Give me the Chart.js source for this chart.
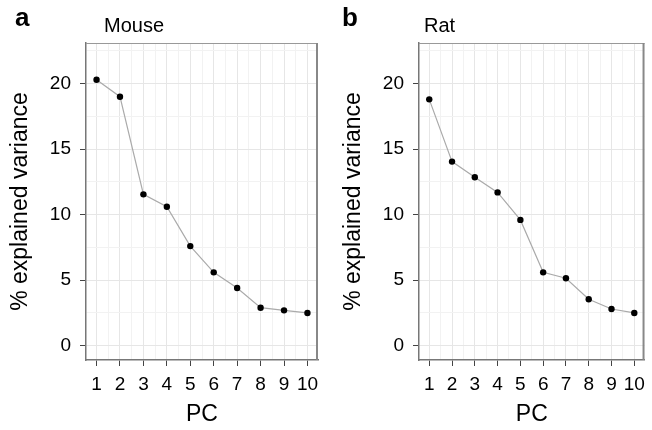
<!DOCTYPE html>
<html>
<head>
<meta charset="utf-8">
<script src="https://cdn.jsdelivr.net/npm/chart.js@4"></script>
<style>
  body { margin: 0; background: #fff; }
  #wrap { position: relative; width: 652px; height: 430px; overflow: hidden; font-family: "Liberation Sans", Arial, sans-serif; color: #000; }
  .cv { position: absolute; top: 0; height: 430px; }
  .lbl { position: absolute; line-height: 1; white-space: nowrap; }
  .tag { font-size: 26px; font-weight: bold; top: 4px; }
  .ttl { font-size: 20px; top: 15px; }
</style>
</head>
<body>
<div id="wrap">
  <div class="cv" style="left:0;width:326px"><canvas id="mouse"></canvas></div>
  <div class="cv" style="left:333px;width:319px"><canvas id="rat"></canvas></div>
  <div class="lbl tag" style="left:15px">a</div>
  <div class="lbl ttl" style="left:104px">Mouse</div>
  <div class="lbl tag" style="left:342px">b</div>
  <div class="lbl ttl" style="left:424px">Rat</div>
</div>
<script>
const pcs = [1, 2, 3, 4, 5, 6, 7, 8, 9, 10];
const mouseVar = [20.3, 19.0, 11.55, 10.6, 7.6, 5.6, 4.4, 2.9, 2.7, 2.5];
const ratVar = [18.8, 14.05, 12.85, 11.7, 9.6, 5.6, 5.15, 3.55, 2.8, 2.5];
const yMajor = [0, 5, 10, 15, 20];
const yMinor = [2.5, 7.5, 12.5, 17.5, 22.5];
const xMinor = [1.5, 2.5, 3.5, 4.5, 5.5, 6.5, 7.5, 8.5, 9.5];

Chart.defaults.font.family = '"Liberation Sans", Arial, sans-serif';
Chart.defaults.color = '#000';

const gridColor = (major) => (ctx) => major.includes(ctx.tick.value) ? '#e6e6e6' : '#f2f2f2';
const tickColor = (major) => (ctx) => major.includes(ctx.tick.value) ? '#444' : 'rgba(0,0,0,0)';

// cadre du panneau (haut et droite)
const cadre = {
    id: 'cadre',
    afterDatasetsDraw(chart) {
        const a = chart.chartArea;
        const ctx = chart.ctx;
        ctx.save();
        ctx.strokeStyle = '#999';
        ctx.lineWidth = 1;
        ctx.beginPath();
        ctx.moveTo(a.left, a.top + 0.5);
        ctx.lineTo(a.right, a.top + 0.5);
        ctx.stroke();
        ctx.lineWidth = 2;
        ctx.strokeStyle = '#888';
        ctx.beginPath();
        ctx.moveTo(a.right - 1, a.top);
        ctx.lineTo(a.right - 1, a.bottom);
        ctx.stroke();
        ctx.restore();
    }
};

function graficar(id, valores, padRight) {
    const ctx = document.getElementById(id).getContext('2d');
    return new Chart(ctx, {
        type: 'scatter',
        data: {
            datasets: [{
                data: pcs.map((pc, i) => ({ x: pc, y: valores[i] })),
                showLine: true,
                borderColor: '#aaaaaa',
                borderWidth: 1.2,
                pointRadius: 3.2,
                pointBackgroundColor: '#000',
                pointBorderWidth: 0,
                pointHoverRadius: 3.2
            }]
        },
        options: {
            responsive: true,
            maintainAspectRatio: false,
            animation: false,
            layout: { padding: { top: 43, right: padRight, left: 0, bottom: 0 } },
            plugins: { legend: { display: false }, tooltip: { enabled: false } },
            scales: {
                x: {
                    type: 'linear',
                    min: 0.55,
                    max: 10.45,
                    afterBuildTicks: s => { s.ticks = pcs.concat(xMinor).sort((a, b) => a - b).map(v => ({ value: v })); },
                    afterFit: s => { s.height = 70; },
                    ticks: {
                        autoSkip: false,
                        maxRotation: 0,
                        padding: 7,
                        font: { size: 19 },
                        callback: v => pcs.includes(v) ? String(v) : ''
                    },
                    grid: { color: gridColor(pcs), tickColor: tickColor(pcs), tickLength: 6, lineWidth: 1 },
                    border: { display: true, color: '#777', width: 1.5 },
                    title: { display: true, text: 'PC', font: { size: 23 }, padding: { top: 0, bottom: 2 } }
                },
                y: {
                    min: -1.09,
                    max: 23.1,
                    afterBuildTicks: s => { s.ticks = yMajor.concat(yMinor).sort((a, b) => a - b).map(v => ({ value: v })); },
                    afterFit: s => { s.width = 86; },
                    ticks: {
                        autoSkip: false,
                        padding: 9,
                        font: { size: 19 },
                        callback: v => yMajor.includes(v) ? String(v) : ''
                    },
                    grid: { color: gridColor(yMajor), tickColor: tickColor(yMajor), tickLength: 6, lineWidth: 1 },
                    border: { display: true, color: '#777', width: 1.5 },
                    title: { display: true, text: '% explained variance', font: { size: 23 }, padding: { top: 7, bottom: 0 } }
                }
            }
        },
        plugins: [cadre]
    });
}

graficar('mouse', mouseVar, 8);
graficar('rat', ratVar, 1);
</script>
</body>
</html>
